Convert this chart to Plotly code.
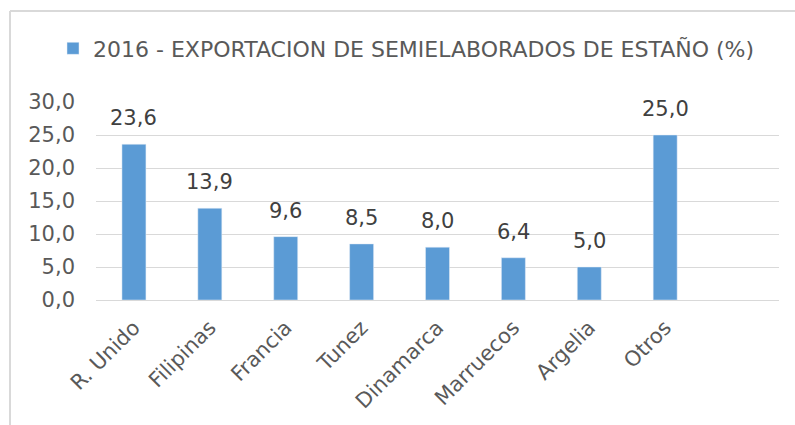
import plotly.graph_objects as go

categories = ["R. Unido", "Filipinas", "Francia", "Tunez", "Dinamarca", "Marruecos", "Argelia", "Otros"]
values = [23.6, 13.9, 9.6, 8.5, 8.0, 6.4, 5.0, 25.0]
series_name = "2016 - EXPORTACION DE SEMIELABORADOS DE ESTAÑO (%)"
y_ticks = [0, 5, 10, 15, 20, 25, 30]

FONT = "DejaVu Sans"
TXT = "#595959"
FS = 21

fig = go.Figure(go.Bar(
    x=categories, y=values, name=series_name,
    marker=dict(color="#5B9BD5"),
    showlegend=True, hoverinfo="x+y",
))

annotations = [
    dict(x=c, y=v, xref="x", yref="y", text=f"{v:.1f}".replace(".", ","),
         showarrow=False, yanchor="bottom", yshift=12,
         font=dict(family=FONT, size=FS, color="#404040"))
    for c, v in zip(categories, values)
]

fig.update_layout(
    width=795, height=425,
    margin=dict(l=96, r=16, t=102, b=125),
    paper_bgcolor="white", plot_bgcolor="white",
    separators=",.",
    bargap=0.684,
    font=dict(family=FONT, size=FS, color=TXT),
    legend=dict(orientation="h", x=(53 - 96) / 683, xanchor="left", y=1.27, yanchor="middle",
                font=dict(family=FONT, size=22, color=TXT)),
    xaxis=dict(range=[-0.5, 8.5], tickangle=-45, showgrid=False, ticks="",
               showline=True, linecolor="#D9D9D9", linewidth=1, ticklabelstandoff=6,
               tickfont=dict(family=FONT, size=FS, color=TXT)),
    yaxis=dict(range=[0, 30], tickvals=y_ticks, tickformat=".1f", showgrid=True,
               gridcolor="#D9D9D9", gridwidth=1, zeroline=False, showline=False,
               ticks="", ticklabelstandoff=20, tickfont=dict(family=FONT, size=FS, color=TXT)),
    annotations=annotations,
    shapes=[
        dict(type="line", xref="paper", yref="paper", x0=(10 - 96) / 683, x1=(800 - 96) / 683,
             y0=1 + (102 - 11) / 198, y1=1 + (102 - 11) / 198, line=dict(color="#D9D9D9", width=2)),
        dict(type="line", xref="paper", yref="paper", x0=(10 - 96) / 683, x1=(10 - 96) / 683,
             y0=1 + (102 - 11) / 198, y1=-(430 - 300) / 198, line=dict(color="#D9D9D9", width=2)),
    ],
)

fig.write_html("out.html", config={"displayModeBar": False},
               post_script="document.body.style.margin='0';")
